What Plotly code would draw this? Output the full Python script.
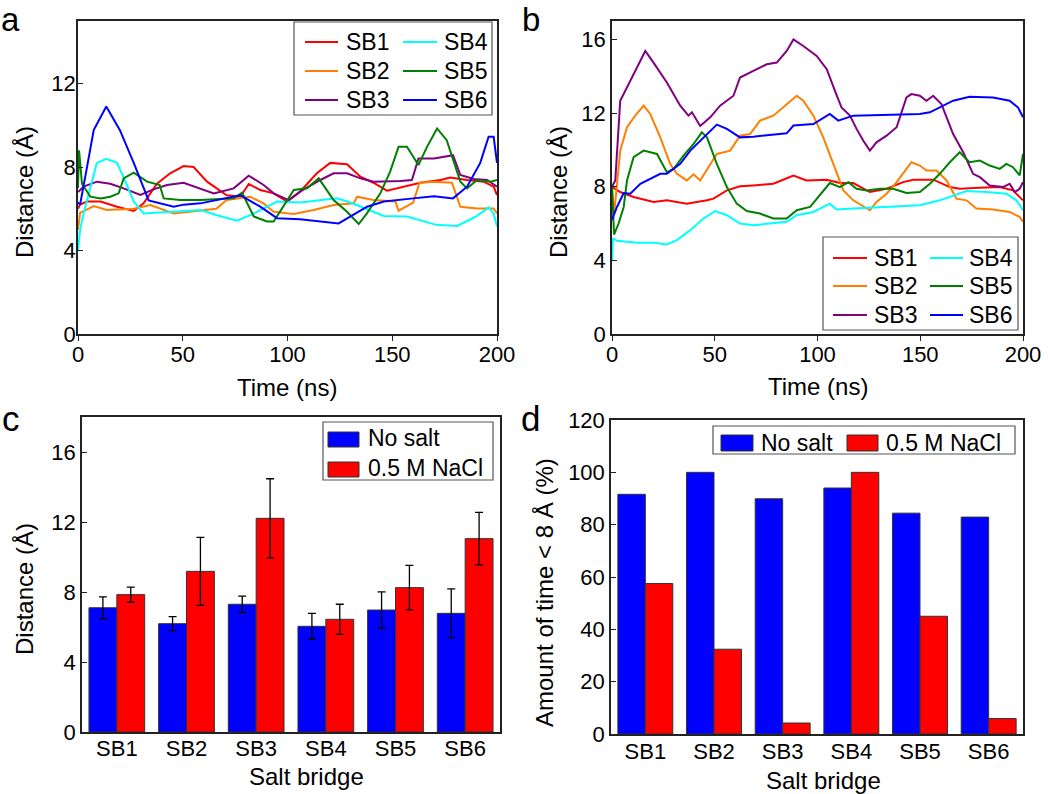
import plotly.graph_objects as go

W, H = 1050, 794
FONT = "Liberation Sans, Arial, sans-serif"

# ---------------- data ----------------
series_names = ["SB1", "SB2", "SB3", "SB4", "SB5", "SB6"]
series_colors = ["#FF0000", "#FF8000", "#800080", "#00FFFF", "#008000", "#0000FF"]

# Panel a: no salt
a_sb1_t = [0, 1, 4.3, 10.7, 18.6, 26.6, 31.3, 37.7, 44, 50.4, 55.2, 61.6, 71, 77.5, 81.5, 87, 93.4, 99.8, 106, 114, 120.4, 128.4, 134.8, 141, 147.5, 153.9, 163.4, 173, 177.7, 185.7, 193.6, 198.4, 200]
a_sb1_v = [6.0, 6.2, 6.35, 6.35, 6.1, 5.9, 6.26, 7.2, 7.7, 8.05, 8.0, 7.3, 6.65, 6.58, 7.19, 6.9, 6.74, 6.35, 6.82, 7.7, 8.2, 8.14, 7.54, 7.25, 6.87, 7.03, 7.25, 7.38, 7.5, 7.38, 7.3, 7.06, 6.66]
a_sb2_t = [0, 1, 7.5, 13.8, 26.6, 34.5, 45.7, 58.4, 66, 71, 82, 88.6, 93.4, 103, 112.5, 122, 131.6, 133.2, 141, 151.5, 153, 160, 163, 170, 178.5, 182.5, 190.5, 198.4, 200]
a_sb2_v = [5.0, 5.8, 6.13, 5.94, 6.0, 6.18, 5.78, 5.94, 6.0, 6.42, 6.58, 6.26, 5.86, 5.75, 5.94, 6.18, 6.26, 6.58, 6.42, 6.35, 5.91, 6.3, 7.25, 7.3, 7.25, 6.1, 6.02, 6.02, 5.78]
a_sb3_t = [0, 2.7, 9, 15.4, 21.8, 29.8, 36, 42.5, 50.4, 58.4, 64.8, 74.3, 81.5, 88.6, 93.4, 100.6, 106, 115.7, 122, 128.4, 134.8, 141, 153.9, 159.4, 162.5, 170, 179, 182.5, 188.9, 195.3, 200]
a_sb3_v = [6.8, 7.06, 7.3, 7.2, 6.98, 6.66, 6.93, 7.14, 7.25, 6.98, 6.74, 6.98, 7.59, 7.14, 6.74, 6.42, 6.82, 7.38, 7.7, 7.7, 7.46, 7.3, 7.33, 7.38, 8.41, 8.41, 8.57, 7.62, 7.43, 7.38, 7.06]
a_sb4_t = [0, 1, 2.7, 5.9, 9, 13.5, 18.6, 21.8, 26.6, 31.3, 42.5, 58.4, 66, 75.9, 84, 95, 106, 123.6, 130, 146, 157, 171, 181, 190, 196, 198.4, 200]
a_sb4_v = [4.0, 5.0, 5.8, 7.06, 8.2, 8.4, 8.2, 7.5, 6.35, 5.78, 5.86, 5.94, 5.7, 5.43, 5.78, 6.35, 6.3, 6.5, 6.3, 5.66, 5.63, 5.23, 5.18, 5.63, 6.07, 5.78, 5.15]
a_sb5_t = [0, 0.5, 1.9, 5.9, 10.7, 15.4, 19.4, 21.8, 26.6, 33, 39, 40.9, 48.8, 58.4, 74.3, 78.3, 83.9, 90.2, 93.4, 103, 109.3, 114.9, 122, 128.4, 134, 137.9, 144.3, 149, 153, 157, 162.5, 166.6, 171.4, 176, 182.5, 185.7, 190.5, 197, 200]
a_sb5_v = [7.0, 8.8, 7.2, 6.58, 6.5, 6.58, 6.74, 7.46, 7.73, 7.3, 7.14, 6.5, 6.42, 6.42, 6.5, 6.77, 5.63, 5.39, 5.39, 6.9, 6.98, 7.46, 6.42, 5.86, 5.27, 5.78, 6.74, 7.78, 8.97, 8.97, 8.1, 8.97, 9.85, 9.29, 7.3, 6.98, 7.38, 7.3, 7.38]
a_sb6_t = [0, 1, 4.3, 7.5, 13.5, 20, 26.6, 33.7, 45.7, 50.4, 58.4, 74.3, 77.5, 87, 95, 106, 124.4, 138, 146, 160, 170, 179, 185.7, 192, 196, 198.4, 200]
a_sb6_v = [6.3, 6.2, 8.0, 9.77, 10.9, 9.77, 8.2, 6.4, 6.1, 6.2, 6.26, 6.6, 6.65, 6.1, 5.55, 5.5, 5.3, 6.1, 6.35, 6.5, 6.6, 6.5, 7.06, 8.2, 9.45, 9.45, 8.2]

# Panel b: 0.5 M NaCl
b_sb1_t = [0, 4, 10.5, 20.2, 26.7, 36.4, 46.2, 49.4, 55.9, 62.3, 68.8, 78.5, 88.3, 94.7, 104.5, 110.9, 117.4, 125.5, 133.6, 141.7, 146.6, 156.3, 164.4, 169.2, 179, 188.7, 195.1, 200]
b_sb1_v = [8.0, 7.71, 7.44, 7.17, 7.26, 7.08, 7.26, 7.35, 7.8, 8.02, 8.07, 8.16, 8.61, 8.34, 8.38, 8.2, 8.2, 7.71, 7.89, 8.25, 8.38, 8.38, 7.98, 7.89, 7.95, 7.98, 7.8, 7.26]
b_sb2_t = [0, 1, 4, 7.3, 11.3, 15.4, 18.6, 23.5, 28.3, 31.6, 36.4, 39.7, 42.9, 47.8, 51, 57.5, 62.3, 67.2, 72, 78.5, 85, 89.9, 93.1, 98, 102.8, 107.7, 112.6, 117.4, 125.5, 128.7, 133.6, 138.5, 145.7, 149.8, 153, 157.9, 162.8, 167.6, 172.5, 177.3, 185.4, 193.5, 198.4, 200]
b_sb2_v = [8.0, 6.5, 9.96, 11.23, 11.86, 12.4, 11.95, 10.68, 9.24, 8.7, 8.34, 8.67, 8.34, 9.24, 9.78, 9.96, 10.77, 10.86, 11.59, 11.86, 12.49, 12.94, 12.67, 11.86, 10.68, 9.24, 7.8, 7.26, 6.72, 7.17, 7.62, 8.25, 9.33, 9.15, 8.88, 8.88, 8.34, 7.35, 7.26, 6.81, 6.76, 6.63, 6.36, 6.09]
b_sb3_t = [0, 1.6, 4, 8.9, 16.2, 20.2, 26.7, 33.2, 37.2, 38.9, 42.9, 47.8, 52.6, 59.1, 62.3, 68.8, 75.3, 80.2, 85, 88.3, 93.1, 99.6, 104.5, 108.5, 111.7, 115.8, 119, 122.3, 125.5, 128.7, 133.6, 138.5, 143.3, 145.7, 149.8, 153, 156.3, 160.3, 166, 170.9, 175.7, 179, 183.8, 190.3, 193.5, 196, 198.4, 200]
b_sb3_v = [8.0, 8.34, 12.67, 13.75, 15.37, 14.74, 13.66, 12.4, 11.86, 12.04, 11.3, 11.77, 12.4, 12.94, 13.93, 14.29, 14.65, 14.74, 15.37, 16.0, 15.64, 15.1, 14.38, 13.2, 12.3, 11.86, 11.14, 10.5, 9.96, 10.41, 10.77, 11.23, 12.85, 13.03, 12.94, 12.67, 12.94, 12.49, 10.86, 9.87, 8.7, 8.52, 8.07, 7.98, 8.16, 7.71, 7.89, 8.25]
b_sb4_t = [0, 0.5, 2.4, 12.1, 20.2, 26.7, 31.6, 38.1, 44.5, 50.2, 55.9, 62.3, 68.8, 78.5, 85, 89.9, 98, 106, 109.3, 117.4, 133.6, 149.8, 159.5, 166, 172.5, 182.2, 191.9, 196.8, 200]
b_sb4_v = [4.0, 5.2, 5.06, 4.95, 4.95, 4.86, 5.1, 5.64, 6.27, 6.68, 6.45, 6.0, 5.91, 6.04, 6.09, 6.45, 6.63, 7.08, 6.76, 6.81, 6.9, 6.99, 7.26, 7.53, 7.77, 7.71, 7.62, 7.26, 6.72]
b_sb5_t = [0, 1, 3.2, 5.7, 7.3, 10.5, 15.4, 19.4, 21.9, 26.7, 30, 34.8, 39.7, 43.7, 46.2, 51, 55.9, 60.7, 65.6, 72, 78.5, 85, 89.9, 96.4, 101.2, 106, 110.9, 115, 119, 123.9, 130.4, 136.8, 143.3, 149.8, 154.7, 159.5, 164.4, 169.2, 174, 179, 183.8, 188.7, 191.9, 195.1, 198.4, 200]
b_sb5_v = [8.0, 5.4, 6.0, 6.9, 8.34, 9.6, 9.96, 9.87, 9.78, 8.79, 8.97, 9.69, 10.32, 10.95, 10.68, 9.24, 7.98, 7.08, 6.68, 6.54, 6.27, 6.27, 6.72, 6.9, 7.53, 8.2, 7.98, 8.25, 7.89, 7.8, 7.89, 7.89, 7.66, 7.71, 8.16, 8.7, 9.33, 9.87, 9.33, 9.42, 9.15, 8.97, 9.24, 9.06, 8.61, 9.78]
b_sb6_t = [0, 2.4, 5.7, 8.9, 13.8, 18.6, 23.5, 26.7, 33.2, 38.1, 44.5, 51, 55.9, 62.3, 68.8, 81.8, 85, 88.3, 98, 106, 110.1, 117.4, 133.6, 149.8, 154.7, 166, 174, 185.4, 193.5, 197.6, 200]
b_sb6_v = [6.2, 6.9, 7.66, 7.62, 8.16, 8.43, 8.7, 8.7, 9.24, 9.96, 10.68, 11.37, 11.14, 10.68, 10.72, 10.86, 10.9, 11.32, 11.4, 11.95, 11.59, 11.86, 11.89, 11.95, 12.04, 12.67, 12.88, 12.85, 12.67, 12.3, 11.77]

# Panel c: mean distance with error bars
bridges = ["SB1", "SB2", "SB3", "SB4", "SB5", "SB6"]
c_nosalt_mean = [7.1, 6.19, 7.3, 6.04, 6.97, 6.78]
c_nosalt_err = [0.62, 0.4, 0.47, 0.74, 1.04, 1.4]
c_nacl_mean = [7.85, 9.18, 12.21, 6.44, 8.25, 11.05]
c_nacl_err = [0.43, 1.94, 2.26, 0.86, 1.27, 1.5]

# Panel d: amount of time < 8 Å (%)
d_nosalt = [91.6, 100, 89.9, 94.0, 84.4, 82.9]
d_nacl = [57.5, 32.4, 4.2, 100, 45.0, 5.9]

group_names = ["No salt", "0.5 M NaCl"]
group_colors = ["#0000FF", "#FF0000"]

a_series = [(a_sb1_t, a_sb1_v), (a_sb2_t, a_sb2_v), (a_sb3_t, a_sb3_v),
            (a_sb4_t, a_sb4_v), (a_sb5_t, a_sb5_v), (a_sb6_t, a_sb6_v)]
b_series = [(b_sb1_t, b_sb1_v), (b_sb2_t, b_sb2_v), (b_sb3_t, b_sb3_v),
            (b_sb4_t, b_sb4_v), (b_sb5_t, b_sb5_v), (b_sb6_t, b_sb6_v)]

# ---------------- helpers ----------------
def px(x):
    return x / W

def py(y):
    return 1 - y / H

fig = go.Figure()

for i, (name, col) in enumerate(zip(series_names, series_colors)):
    t, v = a_series[i]
    fig.add_trace(go.Scatter(x=t, y=v, mode="lines", name=name,
                             line=dict(color=col, width=2),
                             xaxis="x", yaxis="y", showlegend=False))
for i, (name, col) in enumerate(zip(series_names, series_colors)):
    t, v = b_series[i]
    fig.add_trace(go.Scatter(x=t, y=v, mode="lines", name=name,
                             line=dict(color=col, width=2),
                             xaxis="x2", yaxis="y2", showlegend=False))

bar_line = dict(color="#333333", width=1)
fig.add_trace(go.Bar(x=bridges, y=c_nosalt_mean, name=group_names[0],
                     marker=dict(color=group_colors[0], line=bar_line),
                     error_y=dict(type="data", array=c_nosalt_err, color="black", thickness=1.3, width=4),
                     xaxis="x3", yaxis="y3", showlegend=False))
fig.add_trace(go.Bar(x=bridges, y=c_nacl_mean, name=group_names[1],
                     marker=dict(color=group_colors[1], line=bar_line),
                     error_y=dict(type="data", array=c_nacl_err, color="black", thickness=1.3, width=4),
                     xaxis="x3", yaxis="y3", showlegend=False))
fig.add_trace(go.Bar(x=bridges, y=d_nosalt, name=group_names[0],
                     marker=dict(color=group_colors[0], line=bar_line),
                     xaxis="x4", yaxis="y4", showlegend=False))
fig.add_trace(go.Bar(x=bridges, y=d_nacl, name=group_names[1],
                     marker=dict(color=group_colors[1], line=bar_line),
                     xaxis="x4", yaxis="y4", showlegend=False))

tickfont = dict(family=FONT, size=22, color="black")
axis_common = dict(showline=True, linecolor="#222222", linewidth=1.5, mirror=True,
                   showgrid=False, zeroline=False, tickfont=tickfont,
                   tickcolor="#222222", tickwidth=1.3, automargin=False)

def xlin(dom, anchor):
    return dict(axis_common, domain=dom, anchor=anchor, range=[0, 200],
                tickvals=[0, 50, 100, 150, 200], ticks="outside", ticklen=5,
                ticklabelstandoff=-5)

def ycommon(dom, anchor, rng, tv, so=0):
    return dict(axis_common, domain=dom, anchor=anchor, range=rng,
                tickvals=tv, ticks="inside", ticklen=5, ticklabelstandoff=so)

def xcat(dom, anchor, so):
    return dict(axis_common, domain=dom, anchor=anchor, range=[-0.5, 5.5],
                ticks="", type="category", ticklabelstandoff=so)

shapes = []
def box(x0, y0, x1, y1, fill="white", line="#555555", lw=1.2):
    shapes.append(dict(type="rect", xref="paper", yref="paper",
                       x0=px(x0), x1=px(x1), y0=py(y1), y1=py(y0),
                       fillcolor=fill, line=dict(color=line, width=lw), layer="above"))

def seg(x0, x1, y, color):
    shapes.append(dict(type="line", xref="paper", yref="paper",
                       x0=px(x0), x1=px(x1), y0=py(y), y1=py(y),
                       line=dict(color=color, width=2), layer="above"))

ann = []
def text(x, y, s, size=24, xanchor="center", angle=0, yanchor="middle"):
    ann.append(dict(x=px(x), y=py(y), xref="paper", yref="paper", text=s,
                    showarrow=False, xanchor=xanchor, yanchor=yanchor, textangle=angle,
                    borderpad=0,
                    font=dict(family=FONT, size=size, color="black")))

# legend boxes
box(294, 22, 492, 115)
box(823, 237, 1018, 330)
box(323, 422, 493, 480)
box(713, 426, 1015, 454)

# line legends (panel a and b)
a_rows = [42, 71, 100]
b_rows = [258, 286, 315]
for i, (name, col) in enumerate(zip(series_names, series_colors)):
    r = i % 3
    if i < 3:
        seg(305, 338, a_rows[r], col); text(345, a_rows[r], name, size=23, xanchor="left")
        seg(833, 867, b_rows[r], col); text(873, b_rows[r], name, size=23, xanchor="left")
    else:
        seg(403, 437, a_rows[r], col); text(443, a_rows[r], name, size=23, xanchor="left")
        seg(930, 963, b_rows[r], col); text(968, b_rows[r], name, size=23, xanchor="left")

# bar swatches
box(328, 432, 359, 447, fill=group_colors[0], line="#333333", lw=1)
box(328, 462, 359, 477, fill=group_colors[1], line="#333333", lw=1)
box(721, 435, 753, 451, fill=group_colors[0], line="#333333", lw=1)
box(847, 435, 878, 451, fill=group_colors[1], line="#333333", lw=1)
text(367, 438, group_names[0], size=23, xanchor="left")
text(367, 468, group_names[1], size=23, xanchor="left")
text(760, 443, group_names[0], size=23, xanchor="left")
text(885, 443, group_names[1], size=23, xanchor="left")

# panel labels
text(10, 0, "a", size=33, yanchor="top")
text(531, 0, "b", size=33, yanchor="top")
text(11, 398, "c", size=35, yanchor="top")
text(530, 398, "d", size=35, yanchor="top")
# axis titles
text(287, 387, "Time (ns)")
text(818, 386, "Time (ns)")
text(306, 776, "Salt bridge")
text(823, 780, "Salt bridge")
text(24, 192, "Distance (Å)", angle=-90)
text(558, 192, "Distance (Å)", angle=-90)
text(24, 589, "Distance (Å)", angle=-90)
text(544, 593, "Amount of time < 8 Å (%)", angle=-90)

fig.update_layout(
    width=W, height=H, margin=dict(l=0, r=0, t=0, b=0),
    paper_bgcolor="white", plot_bgcolor="white",
    font=dict(family=FONT, color="black"),
    barmode="group", bargap=0.2, bargroupgap=0,
    xaxis=xlin([px(78), px(497)], "y"),
    yaxis=ycommon([py(334), py(21)], "x", [0, 15], [0, 4, 8, 12], so=-4),
    xaxis2=xlin([px(612), px(1023)], "y2"),
    yaxis2=ycommon([py(334), py(21)], "x2", [0, 17], [0, 4, 8, 12, 16]),
    xaxis3=xcat([px(82), px(500)], "y3", -4),
    yaxis3=ycommon([py(732), py(417)], "x3", [0, 18], [0, 4, 8, 12, 16]),
    xaxis4=xcat([px(611), px(1023)], "y4", -3),
    yaxis4=ycommon([py(734), py(420)], "x4", [0, 120], [0, 20, 40, 60, 80, 100, 120]),
    shapes=shapes, annotations=ann, showlegend=False,
)

fig.write_html("out.html", config={"displayModeBar": False},
               post_script="document.body.style.margin='0';document.body.style.padding='0';document.body.style.overflow='hidden';")
